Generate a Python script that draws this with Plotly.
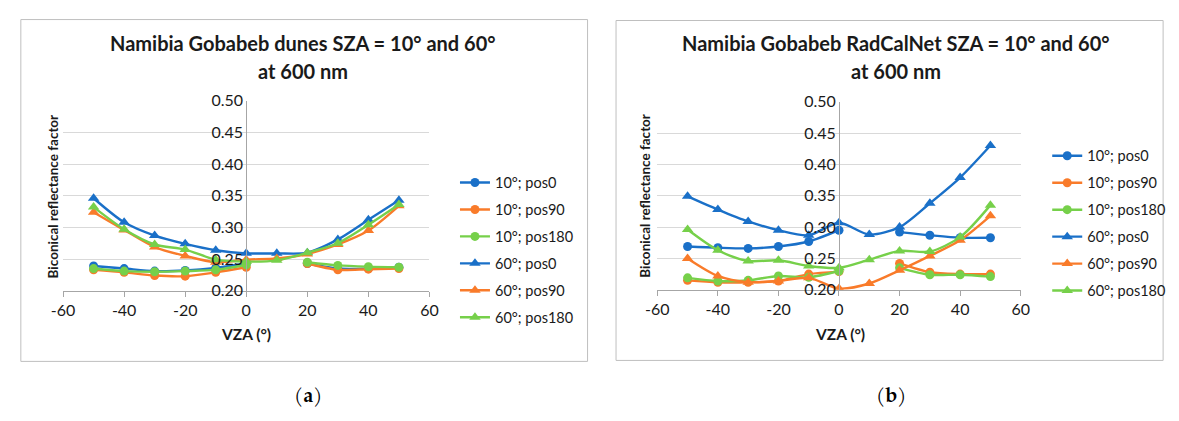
import plotly.graph_objects as go

W, H = 1179, 421

vza = [-50, -40, -30, -20, -10, 0, 10, 20, 30, 40, 50]
series_names = ["10°; pos0", "10°; pos90", "10°; pos180", "60°; pos0", "60°; pos90", "60°; pos180"]

# Panel (a): Namibia Gobabeb dunes
dunes_10_pos0   = [0.239, 0.235, 0.231, 0.232, 0.236, 0.243, None, 0.243, 0.235, 0.235, 0.237]
dunes_10_pos90  = [0.233, 0.229, 0.224, 0.223, 0.229, 0.237, None, 0.243, 0.233, 0.234, 0.235]
dunes_10_pos180 = [0.235, 0.231, 0.230, 0.231, 0.233, 0.241, None, 0.245, 0.240, 0.238, 0.237]
dunes_60_pos0   = [0.346, 0.308, 0.287, 0.274, 0.264, 0.259, 0.259, 0.260, 0.281, 0.312, 0.343]
dunes_60_pos90  = [0.324, 0.296, 0.269, 0.255, 0.245, 0.249, 0.251, 0.258, 0.273, 0.295, 0.334]
dunes_60_pos180 = [0.332, 0.297, 0.273, 0.265, 0.249, 0.246, 0.248, 0.260, 0.275, 0.304, 0.336]

# Panel (b): Namibia Gobabeb RadCalNet
rcn_10_pos0   = [0.269, 0.267, 0.266, 0.269, 0.277, 0.295, None, 0.292, 0.287, 0.283, 0.283]
rcn_10_pos90  = [0.215, 0.212, 0.212, 0.214, 0.225, 0.229, None, 0.242, 0.228, 0.225, 0.225]
rcn_10_pos180 = [0.219, 0.214, 0.215, 0.222, 0.220, 0.230, None, 0.235, 0.224, 0.224, 0.221]
rcn_60_pos0   = [0.349, 0.328, 0.309, 0.295, 0.287, 0.307, 0.288, 0.300, 0.338, 0.379, 0.430]
rcn_60_pos90  = [0.250, 0.222, 0.212, 0.214, 0.219, 0.202, 0.210, 0.231, 0.254, 0.279, 0.318]
rcn_60_pos180 = [0.296, 0.263, 0.246, 0.247, 0.238, 0.235, 0.248, 0.262, 0.261, 0.284, 0.335]

x_ticks = [-60, -40, -20, 0, 20, 40, 60]
y_ticks = [0.20, 0.25, 0.30, 0.35, 0.40, 0.45, 0.50]

titles = [["Namibia Gobabeb dunes SZA = 10° and 60°", "at 600 nm"],
          ["Namibia Gobabeb RadCalNet SZA = 10° and 60°", "at 600 nm"]]
panel_labels = ["(<b>a</b>)", "(<b>b</b>)"]
x_title = "VZA (°)"
y_title = "Biconical reflectance factor"

colors = ["#1A70C8", "#F97B2A", "#76D04A"] * 2
symbols = ["circle"] * 3 + ["triangle-up"] * 3

FONT = "Lato, Carlito, 'Open Sans', sans-serif"
TXT = "#1a1a1a"

def px(x):
    return x / W

def py(y):
    return 1 - y / H

fig = go.Figure()

panels = [
    dict(data=[dunes_10_pos0, dunes_10_pos90, dunes_10_pos180, dunes_60_pos0, dunes_60_pos90, dunes_60_pos180],
         xd=[px(52), px(425)], yd=[py(294), py(95)], legend="legend",
         box=(9, 10, 586, 368), tcx=296, xtx=238, ytx=42, lab=301),
    dict(data=[rcn_10_pos0, rcn_10_pos90, rcn_10_pos180, rcn_60_pos0, rcn_60_pos90, rcn_60_pos180],
         xd=[px(657), px(1027)], yd=[py(293), py(96)], legend="legend2",
         box=(615, 11, 1172, 367), tcx=900, xtx=843, ytx=645, lab=895),
]

for i, p in enumerate(panels):
    xa = "x" if i == 0 else "x2"
    ya = "y" if i == 0 else "y2"
    for j, (name, vals) in enumerate(zip(series_names, p["data"])):
        fig.add_trace(go.Scatter(
            x=vza, y=vals, name=name, mode="lines+markers",
            xaxis=xa, yaxis=ya, legend=p["legend"], legendgroup=f"{i}-{j}",
            connectgaps=False,
            line=dict(color=colors[j], width=2.4, shape="spline", smoothing=0.8),
            marker=dict(symbol=symbols[j], color=colors[j],
                        size=9 if symbols[j] == "circle" else 10,
                        line=dict(width=0)),
        ))

    xkey = "xaxis" if i == 0 else "xaxis2"
    ykey = "yaxis" if i == 0 else "yaxis2"
    mid = (p["xd"][0] + p["xd"][1]) / 2
    fig.update_layout(**{
        xkey: dict(domain=p["xd"], anchor=ya, range=[-60, 60], tickvals=x_ticks,
                   ticktext=[str(v) for v in x_ticks],
                   showgrid=False, zeroline=False, showline=True, linecolor="#A6A6A6",
                   linewidth=1, ticks="outside", ticklen=5, tickcolor="#A6A6A6",
                   tickfont=dict(family=FONT, size=16, color=TXT)),
        ykey: dict(domain=p["yd"], anchor="free", position=mid, range=[0.2, 0.5],
                   tickvals=y_ticks, ticktext=[f"{v:.2f}" for v in y_ticks],
                   showgrid=True, gridcolor="#D9D9D9", gridwidth=1, zeroline=False,
                   showline=True, linecolor="#A6A6A6", linewidth=1, ticks="",
                   tickfont=dict(family=FONT, size=16, color=TXT)),
    })

    x0, y0, x1, y1 = p["box"]
    fig.add_shape(type="rect", xref="paper", yref="paper",
                  x0=px(x0), x1=px(x1), y0=py(y1), y1=py(y0),
                  line=dict(color="#BFBFBF", width=1), layer="below")
    fig.add_annotation(text=f"<b>{titles[i][0]}</b>", xref="paper", yref="paper",
                       x=px(p["tcx"]), y=py(35), xanchor="center", yanchor="middle",
                       showarrow=False, font=dict(family=FONT, size=20, color=TXT))
    fig.add_annotation(text=f"<b>{titles[i][1]}</b>", xref="paper", yref="paper",
                       x=px(p["tcx"]), y=py(64), xanchor="center", yanchor="middle",
                       showarrow=False, font=dict(family=FONT, size=20, color=TXT))
    fig.add_annotation(text=f"<b>{x_title}</b>", xref="paper", yref="paper",
                       x=px(p["xtx"]), y=py(339), xanchor="center", yanchor="middle",
                       showarrow=False, font=dict(family=FONT, size=15.5, color=TXT))
    fig.add_annotation(text=f"<b>{y_title}</b>", xref="paper", yref="paper",
                       x=px(p["ytx"]), y=py(195), xanchor="center", yanchor="middle",
                       textangle=-90, showarrow=False,
                       font=dict(family=FONT, size=13.5, color=TXT))
    fig.add_annotation(text=panel_labels[i], xref="paper", yref="paper",
                       x=px(p["lab"]), y=py(406), xanchor="center", yanchor="middle",
                       showarrow=False,
                       font=dict(family="'URW Palladio L', 'TeX Gyre Pagella', 'DejaVu Serif', serif",
                                 size=20, color="#000000"))

legend_common = dict(xanchor="left", yanchor="top", bgcolor="rgba(0,0,0,0)",
                     font=dict(family=FONT, size=14.5, color=TXT),
                     traceorder="grouped", tracegroupgap=5.1, itemwidth=30,
                     borderwidth=0)
fig.update_layout(
    width=W, height=H,
    margin=dict(l=0, r=0, t=0, b=0),
    paper_bgcolor="white", plot_bgcolor="white",
    showlegend=True,
    legend=dict(x=px(451), y=py(164), **legend_common),
    legend2=dict(x=px(1054), y=py(136), **legend_common),
)

fig.write_html("out.html", config={"displayModeBar": False},
               post_script="document.body.style.margin='0';document.body.style.overflow='hidden';")
